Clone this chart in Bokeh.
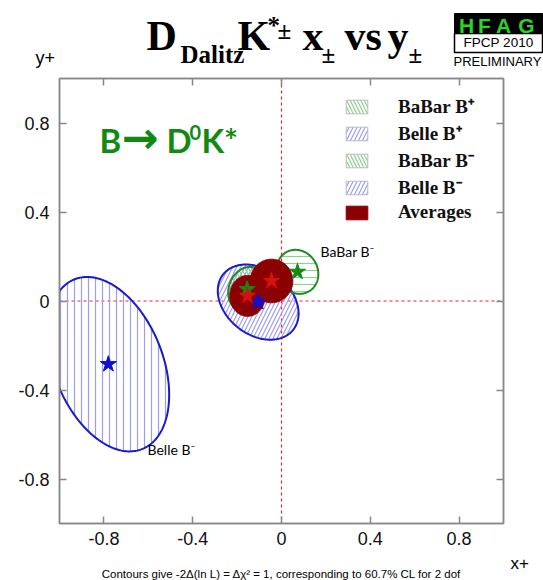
import numpy as np
from bokeh.plotting import figure
from bokeh.layouts import column
from bokeh.models import (Span, Label, LinearAxis, FixedTicker, Legend, LegendItem, Range1d)
from bokeh.embed import file_html
from bokeh.resources import INLINE

# Central values and 1-sigma contour parameters for each measurement
names = ["Belle B-", "Belle B+", "BaBar B+", "BaBar B-", "Average B+", "Average B-"]
x_center = [-0.78, -0.105, -0.155, 0.072, -0.153, -0.045]
y_center = [-0.284, -0.005, 0.053, 0.131, 0.023, 0.090]
sigma_x = [0.274, 0.182, 0.085, 0.094, 0.080, 0.096]
sigma_y = [0.392, 0.169, 0.100, 0.099, 0.092, 0.098]
rho = [-0.35, -0.30, 0.15, -0.10, 0.0, 0.0]

ticks = [-0.8, -0.4, 0.0, 0.4, 0.8]
tick_labels = ["-0.8", "-0.4", "0", "0.4", "0.8"]

BLUE = "#1a1acc"
GREEN = "#1f8a1f"
DARKRED = "#8b0000"
W = 543
HEAD_H, MAIN_H, FOOT_H = 70, 482, 28

# half of (ascent - descent), per font, to place text by its baseline with a middle anchor
MID = {"Liberation Serif": 0.33, "Liberation Sans": 0.34, "Lato": 0.41, "DejaVu Sans": 0.35}


def contour(i, n=240):
    """Delta chi^2 = 1 contour of a correlated 2D gaussian."""
    t = np.linspace(0, 2 * np.pi, n)
    xs = x_center[i] + sigma_x[i] * np.cos(t)
    ys = y_center[i] + sigma_y[i] * (rho[i] * np.cos(t) + np.sqrt(1 - rho[i] ** 2) * np.sin(t))
    return xs, ys


# ---------------------------------------------------------------- main plot
p = figure(width=W, height=MAIN_H, x_range=Range1d(-1, 1), y_range=Range1d(-1, 1),
           output_backend="svg", toolbar_location=None, frame_align=False,
           min_border_left=59, min_border_right=40, min_border_top=8, min_border_bottom=29,
           background_fill_color="white", border_fill_color="white")
p.xgrid.visible = False
p.ygrid.visible = False
p.outline_line_color = "#888888"
p.outline_line_width = 1.5

overrides = {t: s for t, s in zip(ticks, tick_labels)}


def style_axis(ax, labels=True, standoff=10):
    ax.ticker = FixedTicker(ticks=ticks)
    ax.axis_line_color = "#888888"
    ax.axis_line_width = 1.5
    ax.major_tick_line_color = "#888888"
    ax.major_tick_line_width = 1.5
    ax.major_tick_in = 7
    ax.major_tick_out = 0
    ax.minor_tick_line_color = None
    if labels:
        ax.major_label_overrides = overrides
        ax.major_label_text_font = "Liberation Sans"
        ax.major_label_text_font_size = "18px"
        ax.major_label_text_color = "#111111"
        ax.major_label_standoff = standoff
    else:
        ax.major_label_text_color = None
        ax.major_label_text_font_size = "1px"
        ax.major_label_standoff = 0


style_axis(p.xaxis[0], standoff=8)
style_axis(p.yaxis[0])
top_axis = LinearAxis()
right_axis = LinearAxis()
style_axis(top_axis, labels=False)
style_axis(right_axis, labels=False)
p.add_layout(top_axis, "above")
p.add_layout(right_axis, "right")

for dim in ("height", "width"):
    p.add_layout(Span(location=0, dimension=dim, line_color="#e02828",
                      line_dash="3 3", line_width=1.2, level="underlay"))

# Hatched contours: (index, colour, hatch colour, hatch pattern, hatch spacing)
hatched = [
    (0, BLUE, "#9c9cf0", "|", 7),
    (1, BLUE, "#9c9cf0", "/", 8),
    (2, GREEN, "#8fcf8f", "\\", 7),
    (3, GREEN, "#8fcf8f", "-", 7),
]
hatch_renderers = {}
for i, col, hcol, pat, sc in hatched:
    xs, ys = contour(i)
    r = p.patch(xs, ys, fill_color=None, line_color="#bbbbbb", line_width=1,
                hatch_pattern=pat, hatch_color=hcol, hatch_scale=sc, hatch_weight=1.2)
    hatch_renderers[names[i]] = r
for i, col, hcol, pat, sc in hatched:
    xs, ys = contour(i)
    p.line(xs, ys, line_color=col, line_width=2)

# World averages, solid
avg_renderers = []
for i in (4, 5):
    xs, ys = contour(i)
    avg_renderers.append(p.patch(xs, ys, fill_color=DARKRED, line_color=DARKRED, line_width=1))

# Central values
p.scatter([x_center[0], x_center[1]], [y_center[0], y_center[1]], marker="star",
          size=17, color="#1010d0")
p.scatter([x_center[2], x_center[3]], [y_center[2], y_center[3]], marker="star",
          size=17, color="#138a13")
p.scatter([x_center[4], x_center[5]], [y_center[4], y_center[5]], marker="star",
          size=17, color="#d81010")

legend = Legend(items=[
    LegendItem(label="BaBar B⁺", renderers=[hatch_renderers["BaBar B+"]]),
    LegendItem(label="Belle B⁺", renderers=[hatch_renderers["Belle B+"]]),
    LegendItem(label="BaBar B⁻", renderers=[hatch_renderers["BaBar B+"]]),
    LegendItem(label="Belle B⁻", renderers=[hatch_renderers["Belle B+"]]),
    LegendItem(label="Averages", renderers=[avg_renderers[0]]),
], location=(284, 300), padding=0, margin=0, spacing=1,
    glyph_width=27, glyph_height=17, label_height=20, label_standoff=28,
    label_text_font="Liberation Serif", label_text_font_style="bold",
    label_text_font_size="19px", label_text_color="#111111",
    background_fill_alpha=0, border_line_alpha=0)
p.add_layout(legend)

# Frame origin on the page, used to place free text inside the frame
FL, FB = 59, 523


def put(text, X, Y, size, font="Lato", style="bold", color="black", align="left"):
    """Text with its baseline at page position (X, Y), inside the plot frame."""
    p.add_layout(Label(x=X - FL, y=FB - (Y - MID[font] * size), x_units="screen",
                       y_units="screen", text=text, text_font=font, text_font_style=style,
                       text_font_size=f"{size}px", text_color=color, text_align=align,
                       text_baseline="middle"))


# Decay mode tag
GTAG = "#128a12"
put("B", 99, 153, 33, color=GTAG)
put("→", 121, 152, 44, font="DejaVu Sans", color=GTAG)
put("D", 166, 153, 33, color=GTAG)
put("0", 189, 140, 20, color=GTAG)
put("K*", 201, 153, 33, color=GTAG)

# Contour tags
put("BaBar B⁻", 320, 257, 14, style="normal")
put("Belle B⁻", 147, 455, 14, style="normal")


# ---------------------------------------------------------------- header / footer strips
def strip(h):
    f = figure(width=W, height=h, x_range=Range1d(0, W), y_range=Range1d(0, h),
               output_backend="svg", toolbar_location=None, min_border=0, frame_align=False,
               x_axis_location=None, y_axis_location=None, outline_line_color=None,
               background_fill_color="white", border_fill_color="white")
    f.grid.visible = False
    return f


head = strip(HEAD_H)
foot = strip(FOOT_H)


def hput(f, top, text, X, Y, size, font="Liberation Serif", style="bold", color="black",
         align="left"):
    """Text with its baseline at page position (X, Y), in a strip starting at page row `top`."""
    f.add_layout(Label(x=X, y=f.height - (Y - top) + MID[font] * size, text=text,
                       text_font=font, text_font_style=style, text_font_size=f"{size}px",
                       text_color=color, text_align=align, text_baseline="middle"))


# Title
for txt, X, Y, s in [("D", 146, 49, 42), ("Dalitz", 180, 62, 25), ("K", 237, 49, 42),
                     ("*", 267, 33, 25), ("±", 277, 38, 25), ("x", 302, 49, 42),
                     ("±", 321, 62, 25), ("vs", 344, 49, 42), ("y", 387, 49, 42),
                     ("±", 408, 62, 25)]:
    hput(head, 0, txt, X, Y, s)

# HFAG badge
head.quad(left=[454], right=[542], top=[HEAD_H - 13], bottom=[HEAD_H - 33],
          fill_color="black", line_color="black")
head.quad(left=[454], right=[542], top=[HEAD_H - 33], bottom=[HEAD_H - 52],
          fill_color="white", line_color="black", line_width=1.5)
for letter, cx in zip("HFAG", (466, 484, 503, 526)):
    hput(head, 0, letter, cx, 32, 21, font="Liberation Sans", color="#2ad42a", align="center")
hput(head, 0, "FPCP 2010", 498, 47, 13.5, font="Liberation Sans", style="normal", align="center")
hput(head, 0, "PRELIMINARY", 497, 65, 13, font="Liberation Sans", style="normal", align="center")
hput(head, 0, "y+", 35, 64, 18, font="Liberation Sans", style="normal")

# Footer: axis name and caption
FOOT_TOP = HEAD_H + MAIN_H
hput(foot, FOOT_TOP, "x+", 510, 569, 17, font="Liberation Sans", style="normal")
hput(foot, FOOT_TOP, "Contours give -2Δ(ln L) = Δχ² = 1, corresponding to 60.7% CL for 2 dof",
     281, 577, 11.5, font="Liberation Sans", style="normal", align="center")

layout = column(head, p, foot, spacing=0)
open("out.html", "w").write(file_html(layout, INLINE))
